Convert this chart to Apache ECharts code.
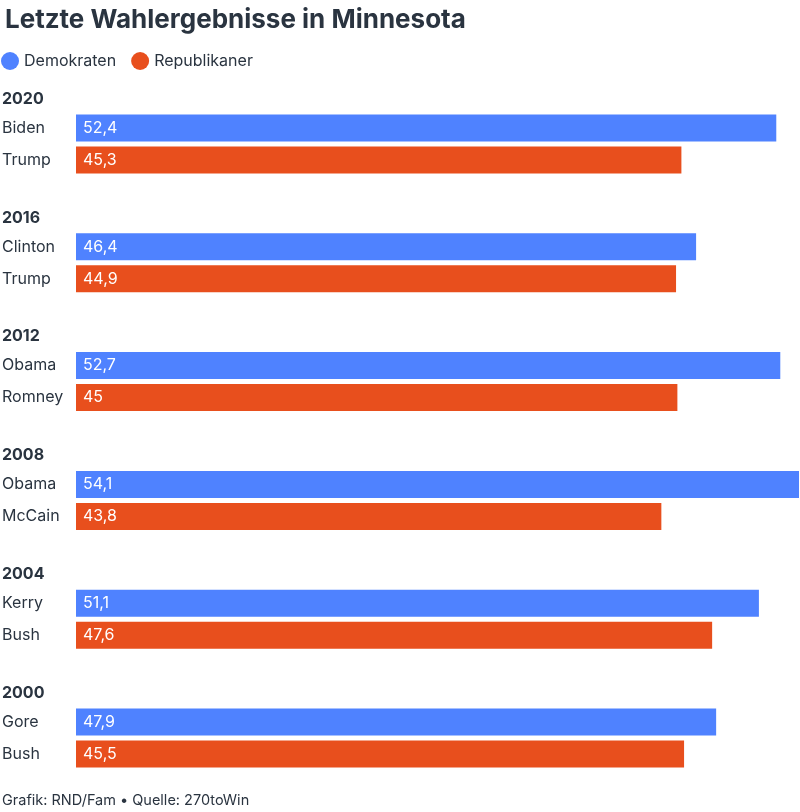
<!DOCTYPE html>
<html><head><meta charset="utf-8">
<script src="https://cdn.jsdelivr.net/npm/echarts@6/dist/echarts.min.js"></script>
<style>html,body{margin:0;padding:0;background:#fff}#c{width:800px;height:812px}</style>
</head><body><div id="c"></div>
<script>
var years = ['2020','2016','2012','2008','2004','2000'];
var demNames = ['Biden','Clinton','Obama','Obama','Kerry','Gore'];
var repNames = ['Trump','Trump','Romney','McCain','Bush','Bush'];
var demValues = [52.4, 46.4, 52.7, 54.1, 51.1, 47.9];
var repValues = [45.3, 44.9, 45.0, 43.8, 47.6, 45.5];

var BLUE = '#4f82ff', RED = '#e84f1d', TEXT = '#2a3440';
var FONT = 'Inter';
var maxV = Math.max.apply(null, demValues.concat(repValues));
var grids = [], xAxes = [], yAxes = [], series = [], graphics = [];
var step = 118.8, top0 = 112;
function fmt(v){ return String(v).replace('.', ','); }
years.forEach(function(y, i){
  var t = top0 + i*step;
  grids.push({left:76, right:1, top:t, height:64, outerBoundsMode:'none', containLabel:false});
  xAxes.push({gridIndex:i, type:'value', min:0, max:maxV, show:false});
  yAxes.push({gridIndex:i, type:'category', inverse:true, data:[demNames[i], repNames[i]],
    axisLine:{show:false}, axisTick:{show:false},
    axisLabel:{align:'left', margin:74, color:TEXT, fontSize:16, fontFamily:FONT}});
  var lbl = {show:true, position:'insideLeft', distance:7, color:'#fff', fontSize:16, fontFamily:FONT,
    formatter:function(p){ return fmt(p.value); }};
  series.push({name:'Demokraten', type:'bar', xAxisIndex:i, yAxisIndex:i, barWidth:27, barGap:'-100%',
    itemStyle:{color:BLUE}, label:lbl, silent:true, data:[demValues[i], '-']});
  series.push({name:'Republikaner', type:'bar', xAxisIndex:i, yAxisIndex:i, barWidth:27, barGap:'-100%',
    itemStyle:{color:RED}, label:lbl, silent:true, data:['-', repValues[i]]});
  graphics.push({type:'text', left:2, top:t-21, style:{text:y, fill:TEXT, font:'700 16px '+FONT}});
});
graphics.push({type:'text', left:2, top:793, style:{text:'Grafik: RND/Fam \u2022 Quelle: 270toWin', fill:TEXT, font:'14.5px '+FONT}});

var chart = echarts.init(document.getElementById('c'));
chart.setOption({
  animation:false,
  title:{text:'Letzte Wahlergebnisse in Minnesota', left:0, top:2,
    textStyle:{color:TEXT, fontSize:26, fontWeight:700, fontFamily:FONT}},
  legend:{left:1, top:52, padding:0, icon:'circle', itemWidth:18, itemHeight:18, itemGap:15,
    data:['Demokraten','Republikaner'], selectedMode:false,
    textStyle:{color:TEXT, fontSize:16, fontFamily:FONT}},
  grid:grids, xAxis:xAxes, yAxis:yAxes, series:series, graphic:graphics
});
</script></body></html>
